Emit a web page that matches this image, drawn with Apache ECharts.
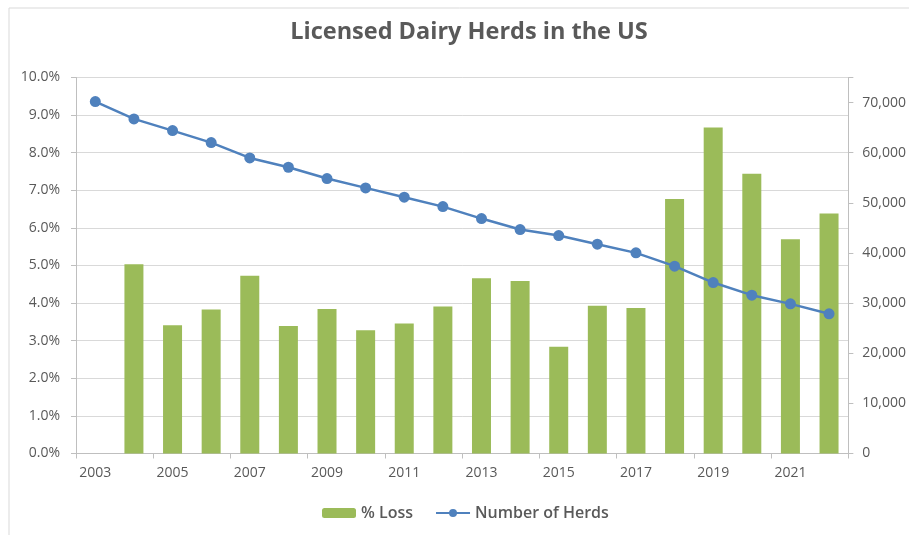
<!DOCTYPE html>
<html>
<head>
<meta charset="utf-8">
<script src="https://cdn.jsdelivr.net/npm/echarts@6/dist/echarts.min.js"></script>
<style>
  html, body { margin: 0; padding: 0; background: #fff; }
  #main { width: 909px; height: 535px; }
</style>
</head>
<body>
<div id="main"></div>
<script>
// data
var years = ["2003", "2004", "2005", "2006", "2007", "2008", "2009", "2010", "2011", "2012",
             "2013", "2014", "2015", "2016", "2017", "2018", "2019", "2020", "2021", "2022"];
var pctLoss = [null, 5.03, 3.41, 3.83, 4.73, 3.39, 3.84, 3.28, 3.46, 3.91,
               4.66, 4.59, 2.84, 3.93, 3.87, 6.77, 8.67, 7.44, 5.70, 6.38];
var herds = [70200, 66740, 64410, 62020, 58960, 57100, 54840, 52980, 51120, 49250,
             46860, 44670, 43470, 41750, 40020, 37370, 34100, 31580, 29850, 27860];

var chart = echarts.init(document.getElementById("main"));
var grey = "#595959";
var font = "Open Sans";

var option = {
  backgroundColor: "#fff",
  animation: false,
  textStyle: { fontFamily: font },
  title: {
    text: "Licensed Dairy Herds in the US",
    left: 464,
    textAlign: "center",
    top: 15,
    textStyle: { color: grey, fontSize: 23.5, fontWeight: "bold", fontFamily: font }
  },
  graphic: [{
    type: "rect",
    shape: { x: 9, y: 8, width: 920, height: 540 },
    style: { fill: null, stroke: "#d9d9d9", lineWidth: 1 },
    silent: true
  }],
  legend: {
    bottom: 9,
    left: 317,
    itemWidth: 34,
    itemHeight: 10,
    itemGap: 22,
    textStyle: { color: grey, fontSize: 16, fontWeight: 600, fontFamily: font },
    data: ["% Loss", "Number of Herds"]
  },
  grid: { left: 76, right: 60, top: 77.5, bottom: 81.5 },
  xAxis: {
    type: "category",
    data: years,
    boundaryGap: true,
    axisLine: { lineStyle: { color: "#bfbfbf" } },
    axisTick: { show: true, length: 5, lineStyle: { color: "#bfbfbf" } },
    axisLabel: { interval: 1, color: grey, fontSize: 14, margin: 13 }
  },
  yAxis: [{
    type: "value",
    min: 0, max: 10, interval: 1,
    axisLine: { show: true, lineStyle: { color: "#bfbfbf" } },
    axisTick: { show: true, length: 5, lineStyle: { color: "#bfbfbf" } },
    axisLabel: { color: grey, fontSize: 14, margin: 16,
      formatter: function (v) { return v.toFixed(1) + "%"; } },
    splitLine: { lineStyle: { color: "#d9d9d9" } }
  }, {
    type: "value",
    min: 0, max: 75000, interval: 10000,
    axisLine: { show: true, lineStyle: { color: "#bfbfbf" } },
    axisTick: { show: true, length: 5, lineStyle: { color: "#bfbfbf" } },
    axisLabel: { color: grey, fontSize: 14, margin: 14,
      formatter: function (v) { return v > 70000 ? "" : v.toLocaleString("en-US"); } },
    splitLine: { show: false }
  }],
  series: [{
    name: "% Loss",
    type: "bar",
    yAxisIndex: 0,
    data: pctLoss,
    barWidth: 19,
    itemStyle: { color: "#9bbb59" }
  }, {
    name: "Number of Herds",
    type: "line",
    yAxisIndex: 1,
    data: herds,
    symbol: "circle",
    symbolSize: 11,
    lineStyle: { color: "#4f81bd", width: 2.5 },
    itemStyle: { color: "#4f81bd" }
  }]
};

chart.setOption(option);
</script>
</body>
</html>
